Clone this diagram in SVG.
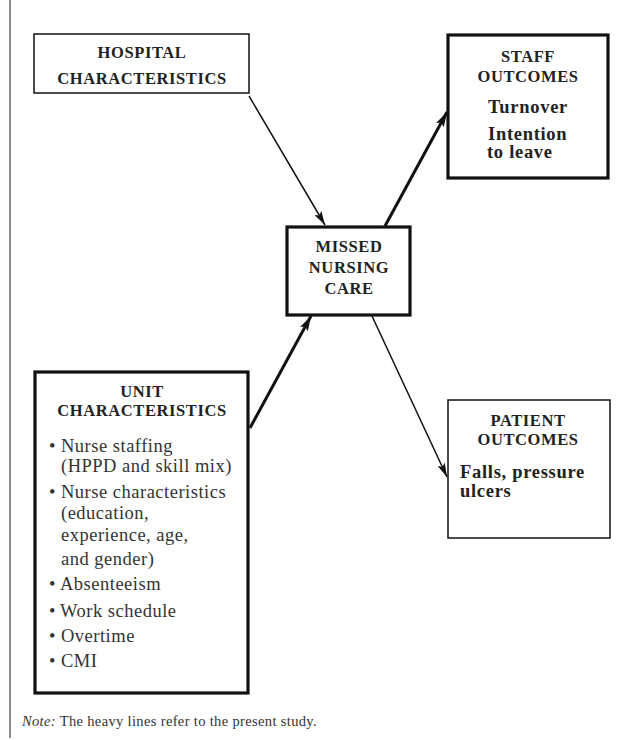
<svg xmlns="http://www.w3.org/2000/svg" width="624" height="740" viewBox="0 0 624 740">
  <defs>
    <style>
      .box { fill: #fff; stroke: #111; }
      .thin { stroke-width: 1.5; }
      .heavy { stroke-width: 3.2; }
      .hd { font-family: "Liberation Serif", "Times New Roman", serif; font-weight: bold; font-size: 16.5px; letter-spacing: 0.6px; fill: #222; text-anchor: middle; }
      .bd { font-family: "Liberation Serif", "Times New Roman", serif; font-weight: bold; font-size: 18.5px; letter-spacing: 0.7px; fill: #222; }
      .tx { font-family: "Liberation Serif", "Times New Roman", serif; font-size: 18.5px; letter-spacing: 0.5px; fill: #333; }
      .note { font-family: "Liberation Serif", "Times New Roman", serif; font-size: 14.5px; letter-spacing: 0.35px; fill: #333; }
      .ln { stroke: #111; fill: none; }
    </style>
    <marker id="ah" viewBox="0 0 14 8" refX="14" refY="4" markerWidth="14" markerHeight="8" markerUnits="userSpaceOnUse" orient="auto">
      <path d="M0,0 L14,4 L0,8 L3,4 Z" fill="#111"/>
    </marker>
    <marker id="ahh" viewBox="0 0 15 9" refX="15" refY="4.5" markerWidth="15" markerHeight="9" markerUnits="userSpaceOnUse" orient="auto">
      <path d="M0,0 L15,4.5 L0,9 L3,4.5 Z" fill="#111"/>
    </marker>
  </defs>

  <!-- page margin rule -->
  <line x1="10" y1="0" x2="10" y2="738" stroke="#666" stroke-width="1.5"/>

  <!-- connectors -->
  <g id="connectors">
    <line class="ln" x1="249" y1="96" x2="325" y2="225" stroke-width="1.5" marker-end="url(#ah)"/>
    <line class="ln" x1="385" y1="226" x2="447" y2="112" stroke-width="3" marker-end="url(#ahh)"/>
    <line class="ln" x1="250" y1="428" x2="311" y2="316" stroke-width="3" marker-end="url(#ahh)"/>
    <line class="ln" x1="372" y1="316" x2="447" y2="477" stroke-width="1.5" marker-end="url(#ah)"/>
  </g>

  <g id="hospital">
    <rect class="box thin" x="34" y="34" width="215" height="59"/>
    <text class="hd" x="142" y="58">HOSPITAL</text>
    <text class="hd" x="142" y="84">CHARACTERISTICS</text>
  </g>

  <g id="staff">
    <rect class="box heavy" x="448" y="35" width="160" height="143"/>
    <text class="hd" x="528" y="62">STAFF</text>
    <text class="hd" x="528" y="82">OUTCOMES</text>
    <text class="bd" x="488" y="113">Turnover</text>
    <text class="bd" x="488" y="140">Intention</text>
    <text class="bd" x="487" y="158">to leave</text>
  </g>

  <g id="missed">
    <rect class="box heavy" x="287" y="227" width="123" height="88"/>
    <text class="hd" x="349" y="252">MISSED</text>
    <text class="hd" x="349" y="273">NURSING</text>
    <text class="hd" x="349" y="294">CARE</text>
  </g>

  <g id="unit">
    <rect class="box heavy" x="35" y="372" width="213" height="321"/>
    <text class="hd" x="142" y="397">UNIT</text>
    <text class="hd" x="142" y="416">CHARACTERISTICS</text>
    <g class="tx">
      <text x="49" y="452">•</text><text x="61" y="452">Nurse staffing</text>
      <text x="61" y="472">(HPPD and skill mix)</text>
      <text x="49" y="498">•</text><text x="61" y="498">Nurse characteristics</text>
      <text x="61" y="519">(education,</text>
      <text x="61" y="541">experience, age,</text>
      <text x="61" y="565">and gender)</text>
      <text x="49" y="590">•</text><text x="60" y="590">Absenteeism</text>
      <text x="49" y="617">•</text><text x="60" y="617">Work schedule</text>
      <text x="49" y="642">•</text><text x="61" y="642">Overtime</text>
      <text x="49" y="667">•</text><text x="61" y="667">CMI</text>
    </g>
  </g>

  <g id="patient">
    <rect class="box thin" x="448" y="400" width="162" height="138"/>
    <text class="hd" x="528" y="426">PATIENT</text>
    <text class="hd" x="528" y="445">OUTCOMES</text>
    <text class="bd" x="460" y="478">Falls, pressure</text>
    <text class="bd" x="460" y="497">ulcers</text>
  </g>

  <text class="note" x="22" y="726"><tspan font-style="italic">Note:</tspan> The heavy lines refer to the present study.</text>
</svg>
